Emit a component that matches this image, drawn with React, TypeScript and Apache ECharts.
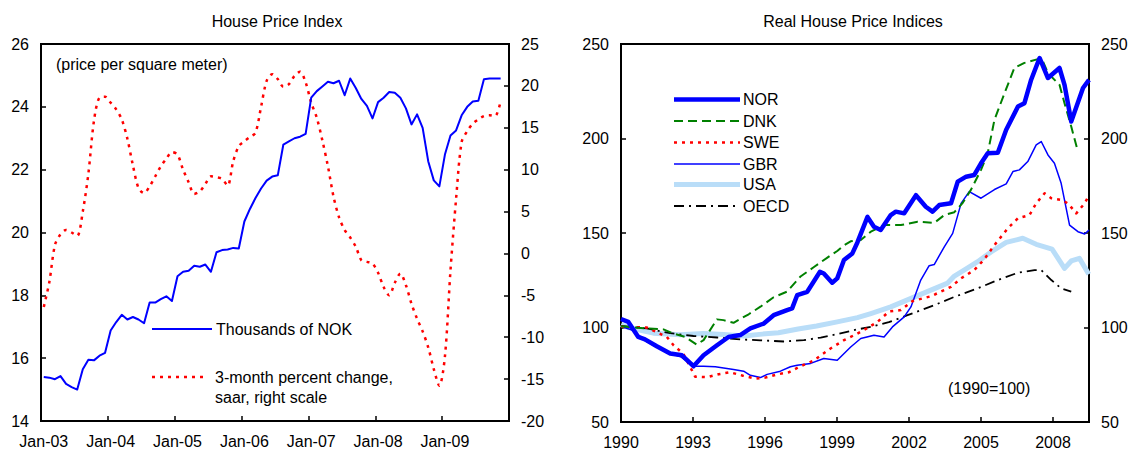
import React, { useEffect, useRef } from "react";
import * as echarts from "echarts";

const FONT = "'Liberation Sans', Arial, sans-serif";

// ---------- Left panel: House Price Index (monthly) ----------
const MONTH_NAMES = ["Jan", "Feb", "Mar", "Apr", "May", "Jun", "Jul", "Aug", "Sep", "Oct", "Nov", "Dec"];
const YEAR_SUFFIXES = ["03", "04", "05", "06", "07", "08", "09"];
const MONTHS = YEAR_SUFFIXES.flatMap((y) => MONTH_NAMES.map((m) => `${m}-${y}`));

// Thousands of NOK per square meter (left scale)
const PRICE_NOK = [
  15.4, 15.38, 15.33, 15.43, 15.18, 15.08, 15.0, 15.65, 15.95, 15.93, 16.08, 16.17,
  16.88, 17.15, 17.38, 17.23, 17.31, 17.23, 17.11, 17.77, 17.77, 17.88, 17.97, 17.82,
  18.61, 18.75, 18.78, 18.94, 18.91, 18.98, 18.75, 19.37, 19.44, 19.46, 19.51, 19.49,
  20.35, 20.75, 21.1, 21.4, 21.65, 21.78, 21.82, 22.8, 22.9, 23.0, 23.05, 23.14,
  24.29, 24.5, 24.65, 24.8, 24.75, 24.83, 24.37, 24.9, 24.6, 24.25, 24.03, 23.63,
  24.15, 24.29, 24.47, 24.45, 24.29, 23.95, 23.44, 23.76, 23.33, 22.27, 21.66, 21.47,
  22.48, 23.09, 23.25, 23.73, 24.0, 24.17, 24.19, 24.88, 24.9, 24.9, 24.9,
];

// 3-month percent change, saar (right scale)
const CHANGE_3M = [
  -6.4, -3.4, 1.0, 2.3, 2.8, 2.5, 2.1, 5.0, 9.5, 15.8, 18.6, 18.7,
  18.0, 17.2, 16.0, 13.7, 10.5, 7.8, 7.2, 8.0, 9.2, 10.4, 11.3, 12.1,
  11.8, 10.0, 8.5, 7.1, 7.4, 8.3, 9.2, 9.1, 8.9, 8.1, 11.0, 12.8,
  13.4, 13.9, 14.4, 17.5, 20.6, 21.4, 20.8, 19.9, 20.2, 21.2, 21.7, 20.4,
  18.0, 16.2, 13.5, 10.4, 6.8, 4.3, 2.8, 1.9, 0.8, -0.8, -1.0, -1.2,
  -2.3, -4.0, -5.0, -3.5, -2.4, -3.8, -6.0, -7.8, -9.3, -11.2, -13.8, -15.8,
  -12.3, -2.0, 6.5, 13.3, 14.6, 15.5, 16.0, 16.4, 16.5, 16.4, 18.2,
];

// ---------- Right panel: Real House Price Indices (1990=100) ----------
const BASE_YEAR = 1990;

const NOR: [number, number][] = [
  [1990.0, 104.5], [1990.3, 103], [1990.72, 95], [1991.0, 93.7], [1991.49, 90.1], [1992.05, 86.2],
  [1992.54, 85.3], [1993.02, 79.5], [1993.44, 85.3], [1994.0, 90.6], [1994.48, 95], [1994.97, 96],
  [1995.39, 99.5], [1995.95, 102.1], [1996.36, 106.5], [1996.92, 109.2], [1997.13, 110.1], [1997.34, 117.1],
  [1997.76, 118.9], [1998.29, 129.5], [1998.45, 128.6], [1998.8, 123.7], [1999.01, 126], [1999.29, 135.7],
  [1999.64, 139.2], [1999.85, 145], [2000.27, 158.5], [2000.54, 153.3], [2000.82, 151.6], [2001.24, 159.5],
  [2001.45, 161.3], [2001.8, 160.4], [2002.29, 170], [2002.7, 163.9], [2002.98, 161.3], [2003.26, 164.8],
  [2003.75, 165.7], [2004.03, 177.2], [2004.38, 179.8], [2004.72, 180.7], [2005.0, 186.9], [2005.28, 192.2],
  [2005.7, 192.5], [2006.05, 204.6], [2006.54, 216.9], [2006.81, 218.7], [2007.09, 231.1], [2007.44, 242.6],
  [2007.79, 232], [2008.27, 237.3], [2008.48, 228.4], [2008.76, 209], [2009.25, 226.7], [2009.5, 231],
];

const DNK: [number, number][] = [
  [1990.0, 100.7], [1991.07, 99.5], [1991.77, 99], [1992.19, 96.8], [1992.67, 95], [1993.15, 91],
  [1993.44, 93.3], [1994.0, 104.3], [1994.27, 103.9], [1994.69, 102.5], [1995.32, 107], [1995.81, 111],
  [1996.36, 116], [1996.92, 119], [1997.48, 127], [1998.04, 132], [1998.6, 137], [1999.01, 140.5],
  [1999.29, 143.5], [1999.57, 145.6], [1999.99, 146.3], [2000.41, 150.7], [2000.96, 154.2], [2001.66, 154.2],
  [2002.36, 156], [2003.05, 155.3], [2003.47, 159.5], [2003.89, 161], [2004.24, 166], [2004.58, 172.8],
  [2005.0, 183.4], [2005.28, 192.2], [2005.56, 209.9], [2005.98, 224], [2006.39, 237.3], [2006.81, 240],
  [2007.37, 242], [2007.58, 240.8], [2007.79, 234.6], [2008.27, 228.4], [2008.48, 218.7], [2008.76, 206.3],
  [2009.04, 193.1],
];

const SWE: [number, number][] = [
  [1990.0, 100.5], [1991.07, 100], [1991.91, 95], [1992.19, 90.6], [1992.6, 86], [1993.09, 74],
  [1993.58, 73.7], [1994.07, 75.3], [1994.55, 76.3], [1995.08, 74.5], [1995.6, 73], [1996.02, 73.5],
  [1996.51, 75.2], [1996.99, 76.3], [1997.48, 79.5], [1998.03, 82.5], [1998.73, 88.9], [1999.29, 93.3],
  [1999.85, 96.8], [2000.24, 99.5], [2000.69, 103], [2001.17, 108.5], [2001.66, 109.2], [2002.15, 114],
  [2002.91, 116.5], [2003.75, 121.5], [2004.17, 126], [2004.72, 130.4], [2005.13, 136], [2005.56, 143.6],
  [2006.12, 152.5], [2006.54, 157.8], [2007.02, 159.5], [2007.3, 165.7], [2007.65, 171], [2007.93, 168.4],
  [2008.35, 167.5], [2008.62, 165.7], [2008.97, 160.4], [2009.32, 165.7], [2009.5, 170],
];

const GBR: [number, number][] = [
  [1990.0, 100.5], [1990.5, 98.5], [1991.0, 93], [1991.5, 89.5], [1992.0, 86.5], [1992.5, 84.5],
  [1993.02, 79.5], [1993.44, 79.5], [1993.93, 79.2], [1994.69, 77.8], [1995.11, 76.9], [1995.39, 74.7],
  [1995.81, 73.5], [1996.09, 75.2], [1996.64, 76.9], [1997.06, 79.2], [1997.34, 80], [1997.9, 81],
  [1998.45, 83.6], [1999.01, 82.7], [1999.57, 89.7], [1999.99, 94.2], [2000.54, 95.9], [2000.96, 95],
  [2001.31, 100.3], [2001.8, 105.6], [2002.08, 110.9], [2002.49, 125.1], [2002.84, 132.7], [2003.05, 133.3],
  [2003.47, 142.7], [2003.82, 149.8], [2004.17, 165.7], [2004.51, 171.9], [2005.0, 168.4], [2005.56, 173],
  [2006.05, 176], [2006.33, 182.5], [2006.6, 183.4], [2006.95, 187.8], [2007.3, 196.6], [2007.51, 198.4],
  [2007.79, 191.3], [2008.06, 186.9], [2008.34, 176.3], [2008.69, 154.2], [2009.04, 150.7], [2009.32, 149.5],
  [2009.5, 151.6],
];

const USA: [number, number][] = [
  [1990.0, 101.5], [1990.3, 100], [1991.35, 97], [1992.47, 96.2], [1993.44, 96.8], [1994.27, 96.3],
  [1995.11, 95.5], [1995.88, 96.5], [1996.56, 97.2], [1997.38, 99.2], [1998.15, 100.8], [1999.01, 103],
  [1999.85, 105.2], [2000.41, 107.4], [2001.24, 110.9], [2002.16, 115.8], [2002.91, 119.8], [2003.61, 123.5],
  [2003.89, 127.2], [2004.38, 131], [2004.86, 134.8], [2005.42, 140], [2006.05, 145], [2006.74, 147.2],
  [2007.3, 144], [2007.96, 141.5], [2008.48, 131.3], [2008.76, 135.2], [2009.1, 136.6], [2009.49, 128.2],
];

const OECD: [number, number][] = [
  [1990.0, 100.8], [1991.07, 99.5], [1992.05, 97], [1993.02, 95.5], [1994.0, 94.7], [1994.97, 93.7],
  [1995.81, 93.2], [1996.78, 92.6], [1997.62, 93.3], [1998.32, 94.7], [1999.01, 96.5], [1999.85, 99],
  [2000.41, 100.3], [2001.16, 102.8], [2001.94, 106.5], [2003.05, 111.8], [2003.89, 116.2], [2004.86, 120.7],
  [2005.7, 125.1], [2006.54, 129], [2007.23, 130.4], [2007.51, 130.4], [2007.93, 125.1], [2008.34, 120.7],
  [2008.76, 119],
];

const BLUE = "#0000ff";
const RED = "#ff0000";
const GREEN = "#008000";
const LIGHT_BLUE = "#b9ddf8";
const BLACK = "#000000";

const shift = (d: [number, number][]) => d.map(([t, v]) => [t - BASE_YEAR, v]);

const axisCommon = {
  axisLine: { show: true, onZero: false, lineStyle: { color: "#000", width: 2 } },
  axisTick: { show: true, inside: true, length: 5, lineStyle: { color: "#000", width: 1.5 } },
  axisLabel: { color: "#000", fontSize: 16, fontFamily: FONT, margin: 12 },
  splitLine: { show: false },
};

export default function App() {
  const ref = useRef<HTMLDivElement>(null);

  useEffect(() => {
    if (!ref.current) return;
    const chart = echarts.init(ref.current, undefined, { renderer: "svg" });

    const legendRows = [
      { name: "NOR", color: BLUE, width: 4.5, type: "solid" as any },
      { name: "DNK", color: GREEN, width: 2, type: [9, 5] as any },
      { name: "SWE", color: RED, width: 2.5, type: [3, 5] as any },
      { name: "GBR", color: BLUE, width: 1.5, type: "solid" as any },
      { name: "USA", color: LIGHT_BLUE, width: 5, type: "solid" as any },
      { name: "OECD", color: BLACK, width: 1.8, type: [10, 5, 2, 5] as any },
    ];
    const rowY = [99.5, 121, 142.5, 164, 184.5, 206];
    const dashOf = (t: any) => (Array.isArray(t) ? t : null);

    const graphic: any[] = [
      {
        type: "text", left: 56, top: 56,
        style: { text: "(price per square meter)", fill: "#000", font: `16px ${FONT}` },
      },
      { type: "line", shape: { x1: 152, y1: 329, x2: 212, y2: 329 }, style: { stroke: BLUE, lineWidth: 2 } },
      {
        type: "text", x: 216, y: 329,
        style: { text: "Thousands of NOK", fill: "#000", font: `16px ${FONT}`, textVerticalAlign: "middle" },
      },
      {
        type: "line", shape: { x1: 152, y1: 377, x2: 207, y2: 377 },
        style: { stroke: RED, lineWidth: 2.5, lineDash: [3, 5] },
      },
      {
        type: "text", x: 215, y: 377,
        style: { text: "3-month percent change,", fill: "#000", font: `16px ${FONT}`, textVerticalAlign: "middle" },
      },
      {
        type: "text", x: 215, y: 397,
        style: { text: "saar, right scale", fill: "#000", font: `16px ${FONT}`, textVerticalAlign: "middle" },
      },
      {
        type: "text", x: 948, y: 388,
        style: { text: "(1990=100)", fill: "#000", font: `16px ${FONT}`, textVerticalAlign: "middle" },
      },
    ];
    legendRows.forEach((r, i) => {
      graphic.push({
        type: "line",
        shape: { x1: 674, y1: rowY[i], x2: 740, y2: rowY[i] },
        style: { stroke: r.color, lineWidth: r.width, lineDash: dashOf(r.type) },
      });
      graphic.push({
        type: "text", x: 743, y: rowY[i],
        style: { text: r.name, fill: "#000", font: `16px ${FONT}`, textVerticalAlign: "middle" },
      });
    });

    const styleOf = (name: string) => legendRows.find((r) => r.name === name)!;
    const rightSeries = (name: string, data: [number, number][], z: number) => {
      const s = styleOf(name);
      return {
        name, type: "line", xAxisIndex: 1, yAxisIndex: 2, data: shift(data), showSymbol: false,
        symbol: "none", z,
        lineStyle: { color: s.color, width: s.width, type: s.type, cap: "butt", join: "round" },
      };
    };

    chart.setOption({
      animation: false,
      backgroundColor: "#fff",
      title: [
        { text: "House Price Index", left: 272, top: 8, textAlign: "center",
          textStyle: { fontSize: 16, fontWeight: "normal", color: "#000", fontFamily: FONT } },
        { text: "Real House Price Indices", left: 848, top: 8, textAlign: "center",
          textStyle: { fontSize: 16, fontWeight: "normal", color: "#000", fontFamily: FONT } },
      ],
      grid: [
        { left: 41, top: 44, width: 468, height: 377, show: true, borderColor: "#000", borderWidth: 2, backgroundColor: "transparent" },
        { left: 621, top: 44, width: 468, height: 378, show: true, borderColor: "#000", borderWidth: 2, backgroundColor: "transparent" },
      ],
      xAxis: [
        {
          ...axisCommon, type: "category", gridIndex: 0, data: MONTHS, boundaryGap: true,
          axisTick: { ...axisCommon.axisTick, interval: 11 },
          axisLabel: { ...axisCommon.axisLabel, interval: 11 },
        },
        {
          ...axisCommon, type: "value", gridIndex: 1, min: 0, max: 19.5, interval: 3,
          axisLabel: { ...axisCommon.axisLabel, showMaxLabel: false, formatter: (v: number) => String(BASE_YEAR + v) },
        },
      ],
      yAxis: [
        { ...axisCommon, type: "value", gridIndex: 0, position: "left", min: 14, max: 26, interval: 2 },
        { ...axisCommon, type: "value", gridIndex: 0, position: "right", min: -20, max: 25, interval: 5 },
        { ...axisCommon, type: "value", gridIndex: 1, position: "left", min: 50, max: 250, interval: 50 },
        { ...axisCommon, type: "value", gridIndex: 1, position: "right", min: 50, max: 250, interval: 50 },
      ],
      series: [
        {
          name: "Thousands of NOK", type: "line", xAxisIndex: 0, yAxisIndex: 0, data: PRICE_NOK,
          symbol: "none", showSymbol: false, z: 3,
          lineStyle: { color: BLUE, width: 2, join: "round" },
        },
        {
          name: "3-month percent change, saar, right scale", type: "line", xAxisIndex: 0, yAxisIndex: 1,
          data: CHANGE_3M, symbol: "none", showSymbol: false, z: 2, smooth: 0.3,
          lineStyle: { color: RED, width: 2.5, type: [3, 5], cap: "butt" },
        },
        rightSeries("USA", USA, 2),
        rightSeries("OECD", OECD, 3),
        rightSeries("GBR", GBR, 4),
        rightSeries("SWE", SWE, 5),
        rightSeries("DNK", DNK, 6),
        rightSeries("NOR", NOR, 7),
      ],
      graphic,
    });

    return () => chart.dispose();
  }, []);

  return <div ref={ref} style={{ position: "absolute", left: 0, top: 0, width: 1134, height: 454 }} />;
}
